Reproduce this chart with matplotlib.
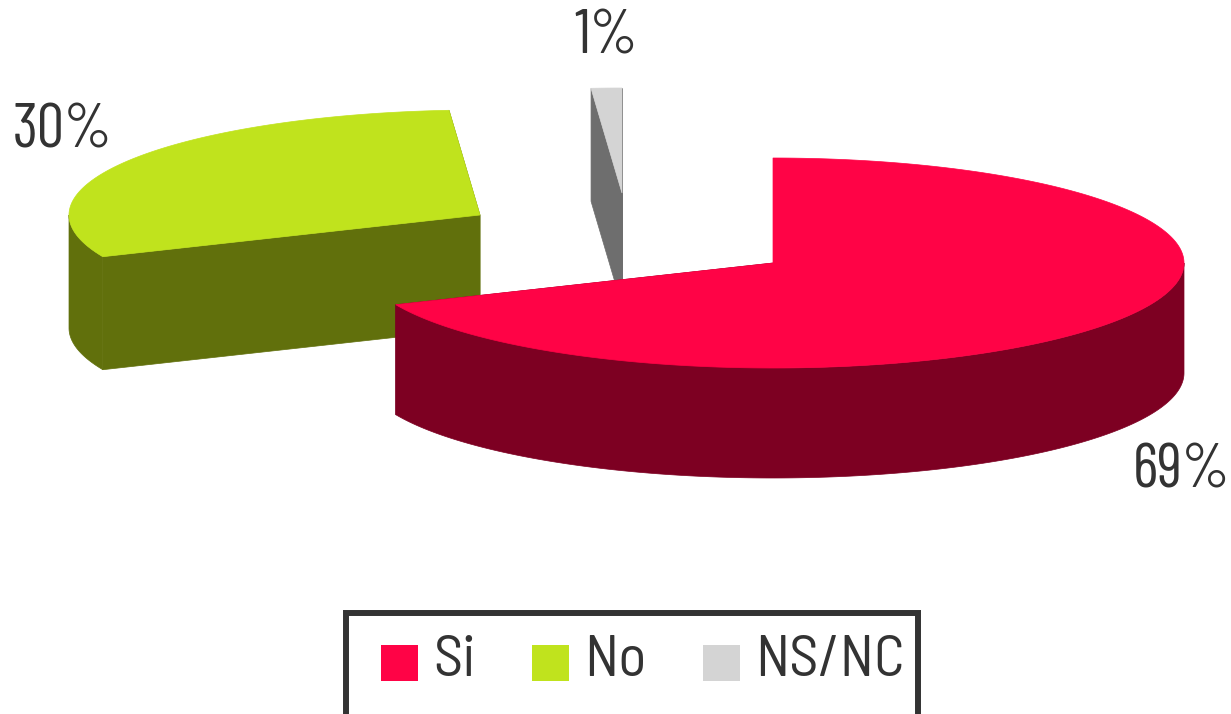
import numpy as np
import matplotlib
matplotlib.use("Agg")
import matplotlib.pyplot as plt
from matplotlib.patches import Patch, Polygon, Rectangle
from matplotlib.font_manager import FontProperties
import logging
logging.getLogger("matplotlib.font_manager").setLevel(logging.ERROR)

categories = ["Si", "No", "NS/NC"]
shares = [68.5, 30.3, 1.2]
labels = ["69%", "30%", "1%"]
top_colors = ["#ff0346", "#c0e31d", "#d4d4d4"]
side_colors = ["#7d0022", "#61700c", "#6e6e6e"]
centers = [(773, 263), (480, 215), (622, 193)]
depths = [110, 113, 113]
label_pos = [(1181, 472), (63, 131), (606, 37)]
RX, RY = 411, 105

plt.rcParams["font.family"] = ["Barlow Condensed Light", "Barlow Condensed", "Liberation Sans"]
FS = 44
LEGEND_FS = 42

fig = plt.figure(figsize=(12.31, 7.14), dpi=100)
ax = fig.add_axes([0, 0, 1, 1])
ax.set_xlim(0, 1231)
ax.set_ylim(714, 0)
ax.axis("off")

def rim(c, a0, a1):
    t = np.radians(np.linspace(a0, a1, max(int(abs(a1 - a0) * 2), 2)))
    return np.column_stack([c[0] + RX * np.sin(t), c[1] - RY * np.cos(t)])

edges = np.concatenate([[0], np.cumsum(shares)]) * 3.6
for i in [2, 1, 0]:
    a0, a1 = edges[i], edges[i + 1]
    c = np.array(centers[i], float)
    down = np.array([0, depths[i]])
    z = 2 + (2 - i) * 3
    for a in (a0, a1):
        p = rim(c, a, a + 1e-6)[0]
        ax.add_patch(Polygon([c, p, p + down, c + down], closed=True, fc=side_colors[i], ec=side_colors[i], lw=0.5, zorder=z))
    lo, hi = max(a0, 90), min(a1, 270)
    if hi > lo:
        r = rim(c, lo, hi)
        ax.add_patch(Polygon(np.vstack([r, (r + down)[::-1]]), closed=True, fc=side_colors[i], ec=side_colors[i], lw=0.5, zorder=z + 1))
    ax.add_patch(Polygon(np.vstack([c, rim(c, a0, a1)]), closed=True, fc=top_colors[i], ec=top_colors[i], lw=0.5, zorder=z + 2))
    ax.text(*label_pos[i], labels[i], ha="center", va="center", fontsize=FS, color="#333333", zorder=20)

ax.add_patch(Rectangle((346, 613), 572, 104, fc="white", ec="#333333", lw=4.3, zorder=25))
handles = [Patch(fc=c, ec="none") for c in top_colors]
legend_font = FontProperties(family=["Barlow Semi Condensed Light", "Barlow Semi Condensed", "Liberation Sans"], size=LEGEND_FS)
leg = ax.legend(handles, categories, loc="center left", bbox_to_anchor=(381, 662), bbox_transform=ax.transData,
                ncols=3, prop=legend_font, frameon=False, labelcolor="#333333",
                handlelength=0.63, handleheight=0.63, handletextpad=0.26, columnspacing=0.97,
                borderpad=0, borderaxespad=0)
leg.set_zorder(30)
for h in leg.get_patches():
    h.set_y(h.get_y() - 4.6)
    h.set_height(26.6)
fig.savefig("out.png", dpi=100)
